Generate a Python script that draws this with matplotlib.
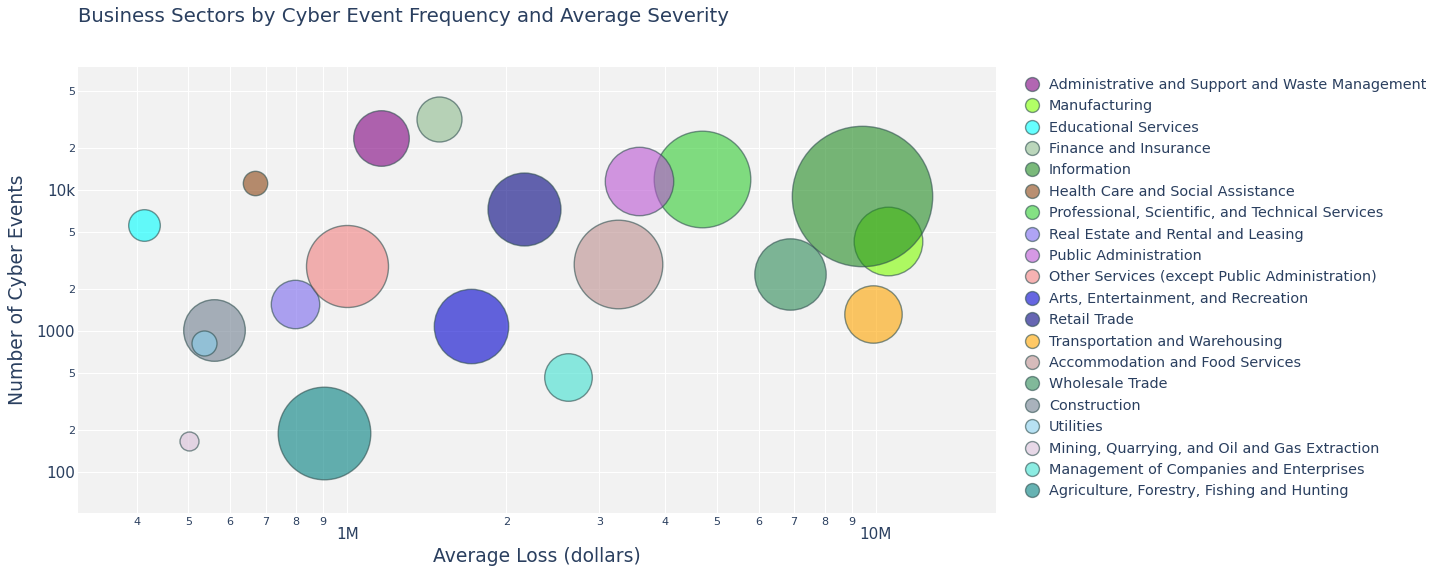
import numpy as np
import matplotlib
matplotlib.use("Agg")
import matplotlib.pyplot as plt
from matplotlib.lines import Line2D

# sectors, in legend order
sectors = [
    "Administrative and Support and Waste Management",
    "Manufacturing",
    "Educational Services",
    "Finance and Insurance",
    "Information",
    "Health Care and Social Assistance",
    "Professional, Scientific, and Technical Services",
    "Real Estate and Rental and Leasing",
    "Public Administration",
    "Other Services (except Public Administration)",
    "Arts, Entertainment, and Recreation",
    "Retail Trade",
    "Transportation and Warehousing",
    "Accommodation and Food Services",
    "Wholesale Trade",
    "Construction",
    "Utilities",
    "Mining, Quarrying, and Oil and Gas Extraction",
    "Management of Companies and Enterprises",
    "Agriculture, Forestry, Fishing and Hunting",
]

avg_loss = [1.158e6, 10.56e6, 412e3, 1.491e6, 9.42e6, 667e3, 4.697e6, 794e3,
            3.568e6, 996e3, 1.712e6, 2.160e6, 9.90e6, 3.250e6, 6.875e6,
            558e3, 536e3, 501e3, 2.617e6, 901e3]
n_events = [23300, 4330, 5620, 32000, 9070, 11200, 11970, 1547,
            11580, 2900, 1091, 7370, 1314, 3000, 2520,
            1016, 822, 166, 472, 188]
# bubble area value (relative)
bubble_val = [773, 1176, 250, 506, 4928, 149, 2333, 586,
              1170, 1681, 1384, 1332, 824, 1962, 1274,
              949, 156, 90, 566, 2144]

colors = ["purple", "chartreuse", "cyan", "darkseagreen", "forestgreen",
          "saddlebrown", "limegreen", "mediumslateblue", "mediumorchid",
          "lightcoral", "mediumblue", "navy", "orange", "rosybrown",
          "seagreen", "slategray", "skyblue", "thistle", "turquoise", "teal"]

y_major = [100, 1000, 10000]
y_major_labels = ["100", "1000", "10k"]
y_minor = [200, 500, 2000, 5000, 20000, 50000]
y_minor_labels = ["2", "5", "2", "5", "2", "5"]
x_major = [1e6, 1e7]
x_major_labels = ["1M", "10M"]
x_minor = [4e5, 5e5, 6e5, 7e5, 8e5, 9e5, 2e6, 3e6, 4e6, 5e6, 6e6, 7e6, 8e6, 9e6]
x_minor_labels = ["4", "5", "6", "7", "8", "9", "2", "3", "4", "5", "6", "7", "8", "9"]

txt = "#2a3f5f"
dpi = 100
fig = plt.figure(figsize=(14.44, 5.71), dpi=dpi)
ax = fig.add_axes([78 / 1444, 58 / 571, 918 / 1444, 446 / 571])
ax.set_facecolor("#f2f2f2")
for s in ax.spines.values():
    s.set_visible(False)

ax.set_xscale("log")
ax.set_yscale("log")

pt = 72 / dpi
for i in range(len(sectors)):
    size = bubble_val[i] * (2 * pt) ** 2
    ax.scatter(avg_loss[i], n_events[i], s=size, color=colors[i], alpha=0.6,
               edgecolors="#2F4F4F", linewidths=1, zorder=3 + i)

ax.set_xlim(10 ** 5.490, 10 ** 7.2277)
ax.set_ylim(10 ** 1.709, 10 ** 4.872)

ax.set_xticks(x_major)
ax.set_xticklabels(x_major_labels)
ax.set_xticks(x_minor, minor=True)
ax.set_xticklabels(x_minor_labels, minor=True)
ax.set_yticks(y_major)
ax.set_yticklabels(y_major_labels)
ax.set_yticks(y_minor, minor=True)
ax.set_yticklabels(y_minor_labels, minor=True)

ax.tick_params(which="major", length=0, labelsize=11, labelcolor=txt)
ax.tick_params(which="minor", length=0, labelsize=8, labelcolor=txt)
ax.tick_params(axis="x", which="major", pad=10)
ax.tick_params(axis="x", which="minor", pad=3)
ax.tick_params(axis="y", which="both", pad=2)
ax.grid(True, which="both", color="white", linewidth=0.8, zorder=0)
ax.set_axisbelow(True)

ax.set_xlabel("Average Loss (dollars)", fontsize=13.5, color=txt, labelpad=4)
ax.set_ylabel("Number of Cyber Events", fontsize=13.5, color=txt, labelpad=7)

fig.text(78 / 1444, 1 - 17 / 571, "Business Sectors by Cyber Event Frequency and Average Severity",
         fontsize=14.2, color=txt, ha="left", va="center")

handles = [Line2D([], [], linestyle="none", marker="o", markersize=10,
                  markerfacecolor=c, markeredgecolor="#2F4F4F", alpha=0.6)
           for c in colors]
leg = fig.legend(handles, sectors, loc="upper left",
                 bbox_to_anchor=(1018 / 1444, 1 - 72 / 571), frameon=False,
                 fontsize=10.35, labelspacing=0.515, handletextpad=0.55,
                 handlelength=1.2, borderaxespad=0)
for t in leg.get_texts():
    t.set_color(txt)

fig.savefig("out.png", dpi=dpi)
